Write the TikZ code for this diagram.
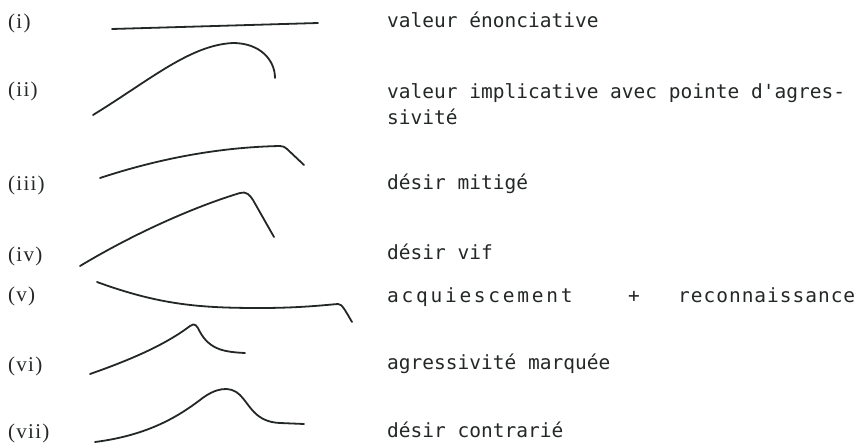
\documentclass[tikz,border=0pt]{standalone}
\usepackage{fontspec}
\newfontfamily\descfont{DejaVu Sans Mono}
\newfontfamily\numfont{Liberation Serif}[LetterSpace=6]
\tikzset{
  num/.style={anchor=west, inner sep=0pt, font=\fontsize{21}{24}\selectfont\numfont, text=ink},
  desc/.style={anchor=base west, inner sep=0pt, font=\fontsize{19.5}{22}\selectfont\descfont, text=ink},
  contour/.style={draw=ink, line width=1.8pt, line cap=round, line join=round}
}
\definecolor{ink}{HTML}{232726}
\begin{document}
\begin{tikzpicture}[x=1pt,y=-1pt]
\useasboundingbox (0,0) rectangle (867,444);
% labels
\node[num] (n1) at (8,23) {(i)};
\node[num] (n2) at (8,91) {(ii)};
\node[num] (n3) at (8,185) {(iii)};
\node[num] (n4) at (8,256) {(iv)};
\node[num] (n5) at (8,296) {(v)};
\node[num] (n6) at (8,366) {(vi)};
\node[num] (n7) at (8,433) {(vii)};
% descriptions
\node[desc] (d1) at (387,28) {valeur énonciative};
\node[desc] (d2) at (387,99) {valeur implicative avec pointe d'agres-};
\node[desc] (d2b) at (387,124) {sivité};
\node[desc] (d3) at (387,189) {désir mitigé};
\node[desc] (d4) at (387,259) {désir vif};
\node[desc] (d5a) at (387,302) {\addfontfeature{LetterSpace=14}acquiescement};
\node[desc] (d5b) at (628,302) {+};
\node[desc] (d5c) at (678,302) {\addfontfeature{LetterSpace=5}reconnaissance};
\node[desc] (d6) at (387,369) {agressivité marquée};
\node[desc] (d7) at (387,437) {désir contrarié};
% contours
\draw[contour] (112,29) -- (318,23);
\draw[contour] (93,115) .. controls (150,80) and (190,45) .. (233,43)
  .. controls (260,43) and (275,60) .. (275,78);
\draw[contour] (100,178) .. controls (170,155) and (230,147) .. (280,146)
  .. controls (283,146) and (285,147) .. (287,149) -- (304,165);
\draw[contour] (80,266) .. controls (140,230) and (200,205) .. (240,193)
  .. controls (246,191) and (250,195) .. (253,200) -- (274,237);
\draw[contour] (97,282) .. controls (160,305) and (200,308) .. (260,308)
  .. controls (300,308) and (325,305) .. (338,304)
  .. controls (342,304) and (345,310) .. (352,322);
\draw[contour] (90,374) .. controls (130,360) and (165,345) .. (190,326)
  .. controls (195,322) and (197,326) .. (200,332)
  .. controls (210,350) and (225,352) .. (245,353);
\draw[contour] (95,442) .. controls (150,435) and (180,415) .. (200,400)
  .. controls (215,388) and (230,385) .. (240,395)
  .. controls (250,405) and (255,422) .. (280,423) -- (304,424);
\end{tikzpicture}
\end{document}
